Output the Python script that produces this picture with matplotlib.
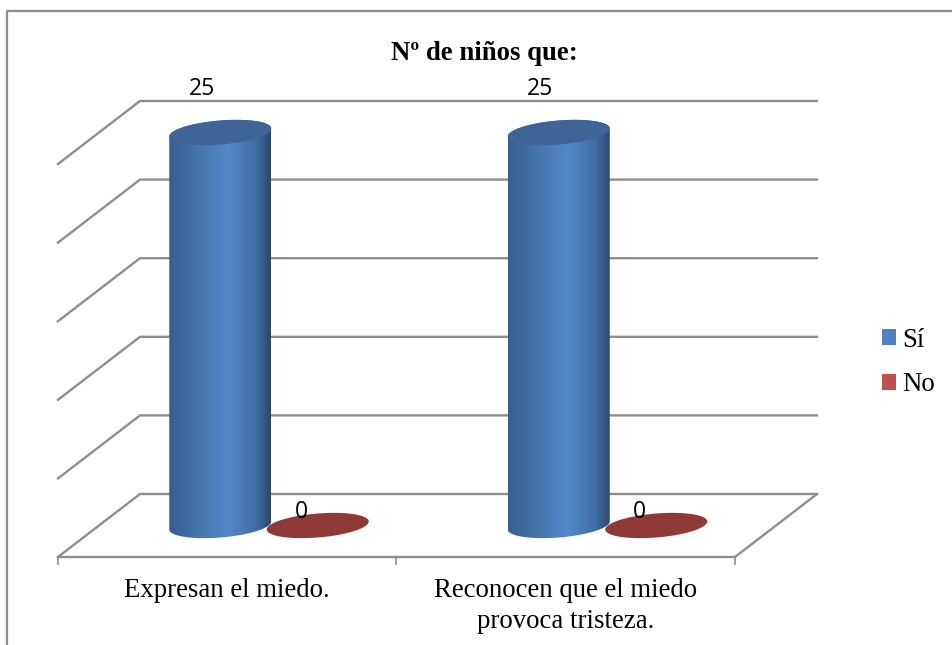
import numpy as np
import matplotlib
matplotlib.use("Agg")
import matplotlib.pyplot as plt
from matplotlib.patches import Polygon, Patch
from matplotlib.colors import LinearSegmentedColormap

title = "Nº de niños que:"
categories = ["Expresan el miedo.", "Reconocen que el miedo\nprovoca tristeza."]
series_names = ["Sí", "No"]
si_values = [25, 25]
no_values = [0, 0]
grid_values = [0, 5, 10, 15, 20, 25]

W, H = 953, 645
X0, CAT_W = 58.0, 338.5      # px of category 0 on front edge, px per category
Y0, UNIT = 557.0, 15.72      # px of value 0 on front edge, px per value unit
DX, DY = 82.0 / CAT_W, 63.0 / UNIT   # depth shift in data units
GREY = "#8e8e8e"

fig = plt.figure(figsize=(W / 100, H / 100), dpi=100, facecolor="white")
ax = fig.add_axes([0, 0, 1, 1])
ax.set_axis_off()
xlim = (-X0 / CAT_W, (W - X0) / CAT_W)
ylim = (-(H - Y0) / UNIT, Y0 / UNIT)


def px_x(p):
    return (p - X0) / CAT_W


def px_y(p):
    return (Y0 - p) / UNIT


# outer chart frame
ax.plot([px_x(7), px_x(7), px_x(953)], [px_y(645), px_y(10.5), px_y(10.5)],
        color=GREY, lw=1.6, solid_capstyle="butt", zorder=1)

# walls and floor
n = len(categories)
for v in grid_values:
    ax.plot([0, DX, n + DX], [v, v + DY, v + DY], color=GREY, lw=1.7,
            solid_joinstyle="miter", zorder=2)
ax.plot([0, n, n + DX], [0, 0, DY], color=GREY, lw=1.7, zorder=2)
for c in range(n + 1):
    ax.plot([c, c], [0, -7 / UNIT], color=GREY, lw=1.2, zorder=2)

# cylinders
body_cmap = LinearSegmentedColormap.from_list(
    "body", [(0, "#35608f"), (0.25, "#4472a8"), (0.58, "#5588cb"),
             (0.85, "#406da4"), (1, "#2c4669")])
t = np.linspace(0, 2 * np.pi, 181)
A = 51.0 / CAT_W
B = 12.0 / UNIT
K = 4.0 / UNIT


def ell(cx, cy):
    return np.column_stack([cx + A * np.cos(t), cy + B * np.sin(t) + K * np.cos(t)])


def cylinder(c, v, off, top_color):
    cx = c + 0.5 + off + 0.5 * DX
    cy = 0.5 * DY
    if v > 0:
        base = ell(cx, cy)
        top = ell(cx, cy + v)
        hull = np.vstack([
            base[90:181],                    # lower half of base, left to right
            [[cx + A, cy + v + K]],
            top[:91],                        # upper half of top, right to left
            [[cx - A, cy - K]],
        ])
        clip = Polygon(hull, closed=True, transform=ax.transData)
        im = ax.imshow(np.linspace(0, 1, 256)[None, :], cmap=body_cmap, aspect="auto",
                       extent=(cx - A, cx + A, cy - 1.5, cy + v + 1.5),
                       zorder=3, interpolation="bilinear")
        im.set_clip_path(clip)
    ax.add_patch(Polygon(ell(cx, cy + v), closed=True, facecolor=top_color,
                         edgecolor="none", zorder=4))


OFF_SI = 48 / CAT_W
OFF_NO = 49.5 / CAT_W
for i in range(n):
    cylinder(i, si_values[i], -OFF_SI, "#3d6595")
    cylinder(i, no_values[i], OFF_NO, "#8f3a38")

# data labels
lab_kw = dict(family="Open Sans", fontsize=16.5, ha="center", va="center", color="black", zorder=6)
for i in range(n):
    ax.text(i + 0.5 - OFF_SI + 0.5 * DX - (18 + i) / CAT_W, si_values[i] + 0.5 * DY + 43.5 / UNIT,
            str(si_values[i]), **lab_kw)
    ax.text(i + 0.5 + OFF_NO + 0.5 * DX - 16.5 / CAT_W, no_values[i] + 0.5 * DY + 13 / UNIT,
            str(no_values[i]), **lab_kw)

# category labels
for i, name in enumerate(categories):
    ax.text(i + 0.5 - 0.5 / CAT_W, px_y(578), name,
            family="Liberation Serif", fontsize=19.3, ha="center", va="top",
            linespacing=1.29, color="black", zorder=6)

ax.text(px_x(484.5), px_y(54), title, family="Liberation Serif", fontsize=19.3,
        fontweight="bold", ha="center", va="center", color="black", zorder=6)

# legend
handles = [Patch(facecolor="#4f81bd", label=series_names[0]),
           Patch(facecolor="#c0504d", label=series_names[1])]
leg = ax.legend(handles=handles, loc="center left",
                bbox_to_anchor=(878 / W, 1 - 362.5 / H), frameon=False,
                prop={"family": "Liberation Serif", "size": 19.3},
                handlelength=0.53, handleheight=0.53, handletextpad=0.22,
                labelspacing=0.74, borderpad=0.15, borderaxespad=0)

ax.set_xlim(*xlim)
ax.set_ylim(*ylim)
fig.savefig("out.png", dpi=100, facecolor="white")
